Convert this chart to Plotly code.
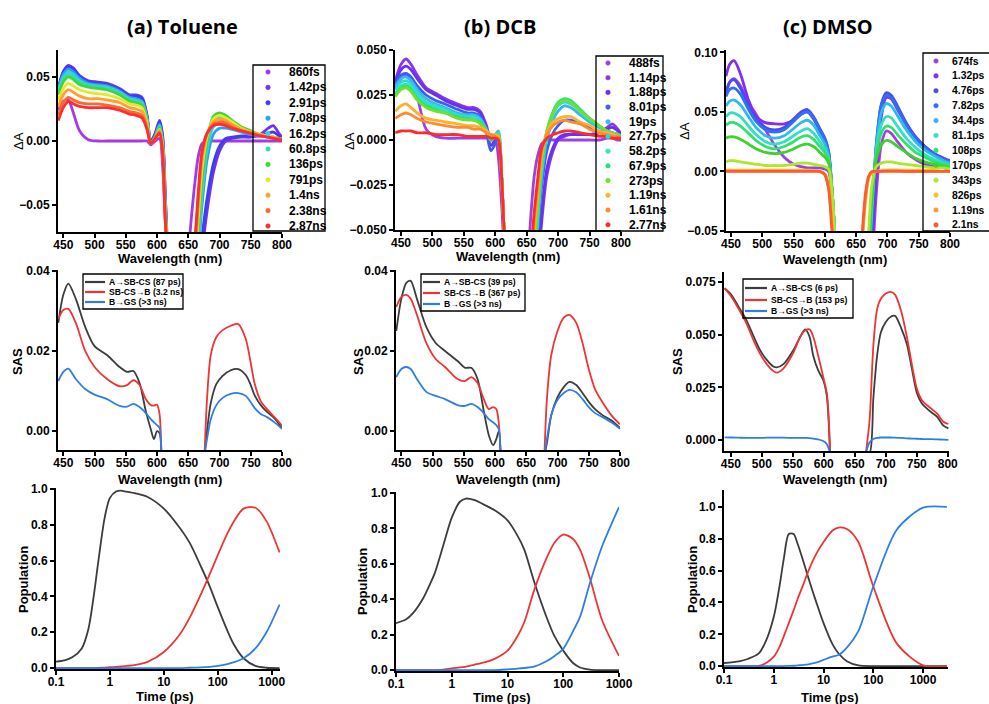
import plotly.graph_objects as go

W, H = 989, 704
FONT = "Liberation Sans, Arial, sans-serif"
TFONT = "Open Sans, Lato, sans-serif"

# ------------------------------------------------------------------ data
# ---- row 1 : transient absorption spectra (Delta A) ----
TOL_LABELS = ["860fs", "1.42ps", "2.91ps", "7.08ps", "16.2ps", "60.8ps", "136ps", "791ps", "1.4ns", "2.38ns", "2.87ns"]
TOL_COLORS = ["#a23be6", "#7430f0", "#3a40f2", "#2a9ef2", "#38cdea", "#2ee3a0", "#3ad93a", "#e6e62e", "#ffa030", "#ff6633", "#ff2d2d"]
TOL_WL_B = [442, 450, 458, 466, 476, 490, 505, 520, 540, 556, 566, 576, 584, 590, 597, 604, 609, 613, 618]
TOL_DA_B = [
    [0.024, 0.031, 0.032, 0.022, 0.008, 0.001, 0.0, 0.0, 0.0, 0.0, 0.0, 0.0, 0.0, -0.003, 0.0, 0.002, -0.02, -0.06, -0.1],
    [0.040, 0.054, 0.059, 0.057, 0.051, 0.047, 0.046, 0.045, 0.041, 0.036, 0.036, 0.034, 0.020, 0.000, 0.006, 0.016, 0.004, -0.04, -0.1],
    [0.041, 0.054, 0.058, 0.056, 0.050, 0.046, 0.045, 0.044, 0.040, 0.035, 0.035, 0.033, 0.019, -0.001, 0.005, 0.015, 0.002, -0.04, -0.1],
    [0.040, 0.052, 0.056, 0.054, 0.049, 0.045, 0.044, 0.043, 0.039, 0.034, 0.033, 0.031, 0.018, -0.002, 0.004, 0.013, 0.0, -0.045, -0.1],
    [0.039, 0.050, 0.054, 0.052, 0.047, 0.044, 0.043, 0.042, 0.038, 0.033, 0.032, 0.030, 0.017, -0.002, 0.003, 0.012, -0.002, -0.05, -0.1],
    [0.037, 0.048, 0.052, 0.050, 0.046, 0.043, 0.042, 0.041, 0.037, 0.032, 0.031, 0.029, 0.016, -0.002, 0.003, 0.011, -0.004, -0.05, -0.1],
    [0.036, 0.046, 0.050, 0.048, 0.044, 0.042, 0.041, 0.040, 0.036, 0.031, 0.030, 0.028, 0.015, -0.002, 0.003, 0.010, -0.005, -0.05, -0.1],
    [0.032, 0.041, 0.045, 0.043, 0.040, 0.038, 0.037, 0.036, 0.033, 0.029, 0.028, 0.026, 0.014, -0.002, 0.002, 0.009, -0.006, -0.055, -0.1],
    [0.027, 0.036, 0.040, 0.038, 0.035, 0.033, 0.033, 0.032, 0.030, 0.026, 0.025, 0.023, 0.012, -0.002, 0.002, 0.008, -0.008, -0.055, -0.1],
    [0.020, 0.030, 0.034, 0.032, 0.030, 0.029, 0.029, 0.028, 0.026, 0.023, 0.022, 0.020, 0.010, -0.002, 0.002, 0.007, -0.01, -0.06, -0.1],
    [0.016, 0.026, 0.031, 0.029, 0.027, 0.026, 0.026, 0.026, 0.024, 0.021, 0.020, 0.018, 0.009, -0.002, 0.002, 0.006, -0.01, -0.06, -0.1],
]
TOL_WL_R = [648, 654, 660, 666, 672, 680, 690, 700, 710, 720, 735, 750, 765, 778, 786, 795, 800]
TOL_DA_R = [
    [-0.1, -0.065, -0.035, -0.012, -0.002, 0.0, 0.0, 0.0, 0.0, 0.0, 0.0, 0.0, 0.0, 0.0, 0.0, 0.0, 0.0],
    [-0.1, -0.1, -0.1, -0.1, -0.085, -0.055, -0.025, -0.008, 0.0, 0.002, 0.003, 0.003, 0.005, 0.010, 0.012, 0.006, 0.003],
    [-0.1, -0.1, -0.1, -0.1, -0.075, -0.045, -0.018, -0.004, 0.002, 0.003, 0.004, 0.004, 0.004, 0.006, 0.007, 0.004, 0.002],
    [-0.1, -0.1, -0.1, -0.085, -0.05, -0.015, 0.005, 0.010, 0.010, 0.009, 0.007, 0.005, 0.004, 0.003, 0.003, 0.002, 0.002],
    [-0.1, -0.1, -0.1, -0.08, -0.042, -0.008, 0.011, 0.014, 0.013, 0.011, 0.008, 0.006, 0.004, 0.003, 0.003, 0.002, 0.002],
    [-0.1, -0.1, -0.1, -0.075, -0.036, -0.003, 0.016, 0.019, 0.017, 0.014, 0.010, 0.007, 0.005, 0.004, 0.003, 0.002, 0.002],
    [-0.1, -0.1, -0.1, -0.07, -0.031, 0.0, 0.019, 0.022, 0.020, 0.016, 0.011, 0.008, 0.005, 0.004, 0.003, 0.002, 0.002],
    [-0.1, -0.1, -0.095, -0.06, -0.022, 0.003, 0.017, 0.020, 0.018, 0.015, 0.010, 0.007, 0.005, 0.004, 0.003, 0.002, 0.002],
    [-0.1, -0.1, -0.09, -0.05, -0.015, 0.005, 0.015, 0.017, 0.016, 0.013, 0.009, 0.007, 0.005, 0.003, 0.003, 0.002, 0.002],
    [-0.1, -0.1, -0.085, -0.045, -0.01, 0.006, 0.013, 0.015, 0.014, 0.011, 0.008, 0.006, 0.004, 0.003, 0.002, 0.002, 0.001],
    [-0.1, -0.1, -0.08, -0.04, -0.008, 0.006, 0.012, 0.013, 0.012, 0.010, 0.008, 0.006, 0.004, 0.003, 0.002, 0.001, 0.001],
]

DCB_LABELS = ["488fs", "1.14ps", "1.88ps", "8.01ps", "19ps", "27.7ps", "58.2ps", "67.9ps", "273ps", "1.19ns", "1.61ns", "2.77ns"]
DCB_COLORS = ["#a040e0", "#8a35ea", "#6a30f0", "#3a60f0", "#38b8f0", "#30d8e0", "#30e8b0", "#30e070", "#70e030", "#ffb030", "#ff8a30", "#ff2a2a"]
DCB_WL_B = [441, 450, 458, 466, 476, 490, 505, 520, 540, 556, 566, 576, 586, 593, 600, 605, 610, 614, 620]
DCB_DA_B = [
    [0.029, 0.034, 0.036, 0.033, 0.024, 0.006, 0.002, 0.001, 0.001, 0.001, 0.001, 0.001, 0.001, 0.0, 0.0, -0.01, -0.035, -0.06, -0.08],
    [0.033, 0.042, 0.045, 0.042, 0.036, 0.029, 0.026, 0.023, 0.020, 0.018, 0.018, 0.016, 0.008, 0.0, 0.001, 0.002, -0.02, -0.05, -0.08],
    [0.032, 0.039, 0.041, 0.039, 0.034, 0.028, 0.025, 0.022, 0.019, 0.017, 0.017, 0.015, 0.006, -0.003, 0.0, 0.002, -0.02, -0.05, -0.08],
    [0.031, 0.036, 0.037, 0.035, 0.030, 0.025, 0.022, 0.020, 0.017, 0.015, 0.015, 0.013, 0.004, -0.006, -0.002, 0.003, -0.02, -0.05, -0.08],
    [0.030, 0.034, 0.035, 0.033, 0.028, 0.023, 0.020, 0.018, 0.015, 0.014, 0.014, 0.012, 0.006, 0.001, 0.003, 0.005, -0.018, -0.05, -0.08],
    [0.028, 0.032, 0.033, 0.031, 0.026, 0.021, 0.019, 0.017, 0.014, 0.013, 0.013, 0.011, 0.005, 0.0, 0.002, 0.004, -0.02, -0.05, -0.08],
    [0.026, 0.030, 0.031, 0.029, 0.024, 0.020, 0.018, 0.016, 0.013, 0.012, 0.012, 0.010, 0.005, 0.0, 0.002, 0.003, -0.02, -0.05, -0.08],
    [0.025, 0.029, 0.030, 0.028, 0.023, 0.019, 0.017, 0.015, 0.013, 0.012, 0.011, 0.010, 0.005, 0.0, 0.002, 0.003, -0.02, -0.05, -0.08],
    [0.024, 0.028, 0.029, 0.027, 0.022, 0.018, 0.016, 0.015, 0.012, 0.011, 0.011, 0.009, 0.005, 0.001, 0.002, 0.003, -0.02, -0.05, -0.08],
    [0.016, 0.019, 0.020, 0.018, 0.015, 0.012, 0.011, 0.010, 0.009, 0.008, 0.008, 0.007, 0.005, 0.003, 0.003, 0.002, -0.02, -0.05, -0.08],
    [0.012, 0.014, 0.015, 0.014, 0.012, 0.010, 0.009, 0.008, 0.007, 0.007, 0.006, 0.006, 0.004, 0.003, 0.002, 0.001, -0.02, -0.05, -0.08],
    [0.004, 0.005, 0.005, 0.005, 0.004, 0.004, 0.003, 0.003, 0.003, 0.002, 0.002, 0.002, 0.002, 0.001, 0.001, 0.0, -0.02, -0.05, -0.08],
]
DCB_WL_R = [650, 656, 662, 668, 674, 682, 692, 700, 710, 720, 735, 750, 765, 778, 786, 795, 800]
DCB_DA_R = [
    [-0.08, -0.045, -0.02, -0.008, -0.002, 0.0, 0.0, 0.0, 0.0, 0.0, 0.0, 0.0, 0.0, 0.001, 0.001, 0.0, 0.0],
    [-0.08, -0.08, -0.08, -0.07, -0.045, -0.02, -0.006, 0.0, 0.002, 0.003, 0.003, 0.003, 0.004, 0.007, 0.009, 0.006, 0.003],
    [-0.08, -0.08, -0.08, -0.065, -0.04, -0.016, -0.004, 0.001, 0.003, 0.003, 0.003, 0.003, 0.004, 0.006, 0.007, 0.005, 0.003],
    [-0.08, -0.08, -0.075, -0.05, -0.025, -0.006, 0.004, 0.008, 0.011, 0.011, 0.009, 0.007, 0.005, 0.004, 0.004, 0.003, 0.002],
    [-0.08, -0.08, -0.07, -0.045, -0.02, 0.0, 0.011, 0.016, 0.019, 0.018, 0.014, 0.010, 0.007, 0.005, 0.004, 0.003, 0.002],
    [-0.08, -0.08, -0.065, -0.04, -0.016, 0.003, 0.014, 0.019, 0.021, 0.020, 0.016, 0.011, 0.008, 0.005, 0.004, 0.003, 0.002],
    [-0.08, -0.08, -0.065, -0.04, -0.015, 0.004, 0.015, 0.020, 0.022, 0.021, 0.017, 0.012, 0.008, 0.005, 0.004, 0.003, 0.002],
    [-0.08, -0.08, -0.063, -0.038, -0.014, 0.005, 0.016, 0.021, 0.023, 0.022, 0.017, 0.012, 0.008, 0.005, 0.004, 0.003, 0.002],
    [-0.08, -0.08, -0.06, -0.035, -0.012, 0.005, 0.015, 0.020, 0.022, 0.021, 0.016, 0.012, 0.008, 0.005, 0.004, 0.003, 0.002],
    [-0.08, -0.075, -0.05, -0.028, -0.008, 0.004, 0.010, 0.012, 0.013, 0.013, 0.010, 0.008, 0.005, 0.004, 0.003, 0.002, 0.001],
    [-0.08, -0.07, -0.045, -0.025, -0.006, 0.003, 0.008, 0.010, 0.011, 0.010, 0.009, 0.006, 0.004, 0.003, 0.002, 0.002, 0.001],
    [-0.08, -0.065, -0.04, -0.02, -0.004, 0.001, 0.003, 0.004, 0.005, 0.005, 0.004, 0.003, 0.002, 0.002, 0.001, 0.001, 0.001],
]

DMSO_LABELS = ["674fs", "1.32ps", "4.76ps", "7.82ps", "34.4ps", "81.1ps", "108ps", "170ps", "343ps", "826ps", "1.19ns", "2.1ns"]
DMSO_COLORS = ["#a040e0", "#8030f0", "#4a4af5", "#3070f0", "#30b8f0", "#30e0c0", "#30e070", "#40d030", "#a8e830", "#ffc020", "#ff9a30", "#ff5a30"]
DMSO_WL_B = [442, 448, 455, 465, 478, 490, 505, 520, 535, 550, 562, 572, 582, 592, 600, 606, 612, 618, 624]
DMSO_DA_B = [
    [0.065, 0.075, 0.078, 0.072, 0.058, 0.048, 0.035, 0.022, 0.012, 0.006, 0.004, 0.003, 0.003, 0.003, 0.002, 0.0, -0.03, -0.07, -0.1],
    [0.080, 0.090, 0.093, 0.082, 0.060, 0.046, 0.041, 0.040, 0.040, 0.043, 0.048, 0.050, 0.044, 0.034, 0.026, 0.015, -0.02, -0.07, -0.1],
    [0.066, 0.075, 0.077, 0.070, 0.055, 0.044, 0.037, 0.035, 0.037, 0.044, 0.050, 0.052, 0.046, 0.036, 0.028, 0.017, -0.02, -0.07, -0.1],
    [0.063, 0.069, 0.070, 0.065, 0.052, 0.042, 0.035, 0.033, 0.035, 0.042, 0.048, 0.050, 0.045, 0.035, 0.027, 0.016, -0.02, -0.07, -0.1],
    [0.055, 0.059, 0.060, 0.056, 0.046, 0.037, 0.030, 0.028, 0.030, 0.036, 0.041, 0.043, 0.039, 0.030, 0.023, 0.013, -0.02, -0.07, -0.1],
    [0.046, 0.049, 0.049, 0.046, 0.038, 0.031, 0.025, 0.023, 0.025, 0.030, 0.034, 0.036, 0.032, 0.025, 0.019, 0.011, -0.02, -0.07, -0.1],
    [0.039, 0.041, 0.041, 0.038, 0.032, 0.026, 0.021, 0.019, 0.021, 0.025, 0.029, 0.030, 0.027, 0.021, 0.016, 0.009, -0.02, -0.07, -0.1],
    [0.028, 0.029, 0.029, 0.027, 0.023, 0.019, 0.016, 0.015, 0.016, 0.019, 0.022, 0.023, 0.021, 0.016, 0.012, 0.007, -0.02, -0.07, -0.1],
    [0.008, 0.009, 0.009, 0.008, 0.007, 0.006, 0.005, 0.005, 0.005, 0.006, 0.007, 0.007, 0.006, 0.005, 0.004, 0.002, -0.02, -0.07, -0.1],
    [0.001, 0.001, 0.001, 0.001, 0.001, 0.001, 0.001, 0.001, 0.001, 0.001, 0.001, 0.001, 0.001, 0.0, -0.002, -0.012, -0.045, -0.08, -0.1],
    [0.0005, 0.0005, 0.0005, 0.0005, 0.0005, 0.0005, 0.0005, 0.0005, 0.0005, 0.0005, 0.0005, 0.0005, 0.0005, 0.0, -0.002, -0.013, -0.05, -0.085, -0.1],
    [0.0, 0.0, 0.0, 0.0, 0.0, 0.0, 0.0, 0.0, 0.0, 0.0, 0.0, 0.0, 0.0, 0.0, -0.003, -0.015, -0.055, -0.09, -0.1],
]
DMSO_WL_R = [655, 660, 665, 670, 675, 682, 690, 698, 706, 716, 730, 745, 760, 775, 790, 800]
DMSO_DA_R = [
    [-0.1, -0.1, -0.1, -0.1, -0.08, -0.02, 0.022, 0.034, 0.032, 0.025, 0.016, 0.010, 0.006, 0.004, 0.003, 0.002],
    [-0.1, -0.1, -0.1, -0.1, -0.07, -0.005, 0.045, 0.062, 0.061, 0.052, 0.040, 0.029, 0.021, 0.015, 0.011, 0.009],
    [-0.1, -0.1, -0.1, -0.09, -0.045, 0.02, 0.056, 0.066, 0.064, 0.055, 0.041, 0.029, 0.021, 0.015, 0.011, 0.008],
    [-0.1, -0.1, -0.1, -0.085, -0.04, 0.022, 0.055, 0.064, 0.062, 0.053, 0.039, 0.028, 0.020, 0.014, 0.010, 0.008],
    [-0.1, -0.1, -0.1, -0.08, -0.035, 0.02, 0.049, 0.057, 0.055, 0.047, 0.035, 0.025, 0.018, 0.013, 0.009, 0.007],
    [-0.1, -0.1, -0.095, -0.075, -0.03, 0.017, 0.039, 0.046, 0.045, 0.038, 0.028, 0.020, 0.014, 0.010, 0.007, 0.006],
    [-0.1, -0.1, -0.095, -0.07, -0.027, 0.014, 0.032, 0.038, 0.037, 0.031, 0.023, 0.016, 0.012, 0.008, 0.006, 0.005],
    [-0.1, -0.1, -0.09, -0.065, -0.022, 0.01, 0.022, 0.026, 0.025, 0.021, 0.016, 0.011, 0.008, 0.006, 0.004, 0.003],
    [-0.1, -0.1, -0.085, -0.05, -0.012, 0.004, 0.007, 0.008, 0.008, 0.007, 0.006, 0.005, 0.004, 0.003, 0.003, 0.002],
    [-0.1, -0.06, -0.025, -0.006, -0.001, 0.0, 0.001, 0.001, 0.001, 0.001, 0.001, 0.001, 0.001, 0.001, 0.0, 0.0],
    [-0.1, -0.055, -0.022, -0.005, -0.001, 0.0, 0.0, 0.001, 0.001, 0.001, 0.0, 0.0, 0.0, 0.0, 0.0, 0.0],
    [-0.095, -0.05, -0.018, -0.004, 0.0, 0.0, 0.0, 0.0, 0.0, 0.0, 0.0, 0.0, 0.0, 0.0, 0.0, 0.0],
]

# ---- row 2 : species associated spectra ----
SAS_COLORS = ["#3c3c3c", "#ee3535", "#2f7ee6"]
TOL_SAS_LABELS = ["A\u2192SB-CS (87 ps)", "SB-CS\u2192B (3.2 ns)", "B\u2192GS (>3 ns)"]
DCB_SAS_LABELS = ["A\u2192SB-CS (39 ps)", "SB-CS\u2192B (367 ps)", "B\u2192GS (>3 ns)"]
DMSO_SAS_LABELS = ["A\u2192SB-CS (6 ps)", "SB-CS\u2192B (153 ps)", "B\u2192GS (>3 ns)"]

TOL_SAS_WL_B = [442, 450, 458, 470, 485, 500, 520, 540, 552, 562, 572, 582, 590, 595, 600, 604, 607]
TOL_SAS_B = [
    [0.027, 0.034, 0.0368, 0.033, 0.026, 0.0212, 0.019, 0.016, 0.0148, 0.015, 0.012, 0.005, 0.0005, -0.002, 0.0, -0.0005, -0.006],
    [0.028, 0.0302, 0.0305, 0.027, 0.020, 0.0160, 0.013, 0.0112, 0.0115, 0.0127, 0.0115, 0.008, 0.0065, 0.0064, 0.0066, 0.0043, -0.006],
    [0.0125, 0.0148, 0.0156, 0.013, 0.0105, 0.0091, 0.008, 0.0063, 0.0061, 0.0068, 0.006, 0.0045, 0.003, 0.0022, 0.0015, 0.0008, -0.006],
]
TOL_SAS_WL_R = [676, 680, 686, 695, 705, 718, 730, 742, 750, 756, 766, 776, 788, 800]
TOL_SAS_R = [
    [-0.006, 0.0, 0.007, 0.0118, 0.0138, 0.0152, 0.0155, 0.014, 0.0115, 0.009, 0.0065, 0.0048, 0.0032, 0.0007],
    [-0.006, 0.008, 0.019, 0.0235, 0.0252, 0.0263, 0.0267, 0.023, 0.017, 0.012, 0.0075, 0.0055, 0.0035, 0.0014],
    [-0.006, -0.002, 0.003, 0.0065, 0.0083, 0.0093, 0.0095, 0.0088, 0.0072, 0.0058, 0.0043, 0.0035, 0.0022, 0.0006],
]

DCB_SAS_WL_B = [442, 450, 458, 465, 475, 490, 505, 520, 540, 552, 562, 572, 582, 590, 597, 602, 606, 609]
DCB_SAS_B = [
    [0.025, 0.033, 0.037, 0.0375, 0.033, 0.026, 0.022, 0.020, 0.0175, 0.0158, 0.0158, 0.013, 0.005, -0.001, -0.0035, -0.002, 0.0, -0.006],
    [0.031, 0.0335, 0.034, 0.033, 0.029, 0.022, 0.018, 0.016, 0.013, 0.0125, 0.0135, 0.012, 0.008, 0.0055, 0.006, 0.0055, 0.002, -0.006],
    [0.0135, 0.0155, 0.016, 0.0155, 0.013, 0.0098, 0.0088, 0.008, 0.0065, 0.0063, 0.0068, 0.006, 0.0045, 0.003, 0.0022, 0.0015, 0.0005, -0.006],
]
DCB_SAS_WL_R = [679, 683, 690, 700, 710, 719, 730, 740, 750, 760, 772, 786, 800]
DCB_SAS_R = [
    [-0.006, -0.003, 0.004, 0.0085, 0.011, 0.0123, 0.0115, 0.0095, 0.0073, 0.0055, 0.004, 0.0027, 0.0008],
    [-0.006, 0.008, 0.019, 0.025, 0.0283, 0.029, 0.027, 0.022, 0.0155, 0.0105, 0.0072, 0.004, 0.0017],
    [-0.006, -0.002, 0.004, 0.0078, 0.0095, 0.0103, 0.0097, 0.008, 0.006, 0.0045, 0.0035, 0.0022, 0.0006],
]

DMSO_SAS_WL_B = [440, 451, 463, 475, 487, 497, 508, 518, 524, 535, 551, 562, 570, 577, 583, 591, 599, 605, 610]
DMSO_SAS_B = [
    [0.072, 0.0688, 0.063, 0.057, 0.049, 0.0427, 0.038, 0.035, 0.0345, 0.036, 0.0427, 0.049, 0.0525, 0.049, 0.040, 0.033, 0.0285, 0.0206, -0.006],
    [0.072, 0.068, 0.062, 0.0555, 0.047, 0.041, 0.036, 0.0328, 0.032, 0.034, 0.0415, 0.049, 0.052, 0.0525, 0.049, 0.040, 0.030, 0.022, -0.004],
    [0.0013, 0.0012, 0.0011, 0.001, 0.001, 0.001, 0.0011, 0.0011, 0.0011, 0.0011, 0.001, 0.001, 0.001, 0.0009, 0.0007, 0.0003, -0.0005, -0.002, -0.006],
]
DMSO_SAS_WL_R = [668, 674, 680, 686, 692, 700, 708, 715, 725, 734, 742, 750, 758, 766, 775, 783, 793, 801]
DMSO_SAS_R = [
    [-0.006, -0.006, 0.02, 0.04, 0.051, 0.056, 0.0585, 0.0589, 0.053, 0.0455, 0.034, 0.0225, 0.0175, 0.015, 0.0128, 0.011, 0.0068, 0.0055],
    [-0.006, 0.01, 0.045, 0.062, 0.067, 0.0695, 0.0703, 0.069, 0.061, 0.049, 0.036, 0.0245, 0.019, 0.0166, 0.0145, 0.0125, 0.0087, 0.0076],
    [-0.006, -0.001, 0.0005, 0.001, 0.0012, 0.0012, 0.0012, 0.0011, 0.001, 0.0008, 0.0007, 0.0006, 0.0005, 0.0004, 0.0004, 0.0003, 0.0002, 0.0001],
]

# ---- row 3 : population kinetics ----
TOL_T = [0.1, 0.15, 0.2, 0.3, 0.4, 0.5, 0.6, 0.8, 1.0, 1.3, 1.6, 2, 3, 5, 10, 20, 30, 50, 70, 100, 150, 200, 300, 500, 800, 1400]
TOL_POP = [
    [0.036, 0.045, 0.06, 0.11, 0.22, 0.40, 0.58, 0.84, 0.95, 0.985, 0.99, 0.985, 0.975, 0.955, 0.89, 0.78, 0.70, 0.56, 0.46, 0.34, 0.21, 0.13, 0.055, 0.012, 0.002, 0.0],
    [0.0, 0.0, 0.0, 0.0, 0.0, 0.0, 0.001, 0.003, 0.005, 0.007, 0.009, 0.012, 0.018, 0.035, 0.09, 0.19, 0.28, 0.42, 0.52, 0.63, 0.75, 0.82, 0.89, 0.895, 0.82, 0.645],
    [0.0, 0.0, 0.0, 0.0, 0.0, 0.0, 0.0, 0.0, 0.0, 0.0, 0.0, 0.0, 0.0, 0.0, 0.0, 0.0, 0.002, 0.004, 0.007, 0.012, 0.022, 0.033, 0.055, 0.11, 0.2, 0.355],
]
DCB_T = [0.1, 0.15, 0.2, 0.3, 0.4, 0.5, 0.7, 1, 1.4, 1.8, 2.5, 4, 6, 10, 15, 20, 30, 50, 70, 100, 150, 200, 300, 500, 1000]
DCB_POP = [
    [0.265, 0.285, 0.32, 0.4, 0.48, 0.55, 0.7, 0.86, 0.95, 0.968, 0.96, 0.93, 0.9, 0.845, 0.76, 0.68, 0.5, 0.3, 0.19, 0.11, 0.04, 0.015, 0.003, 0.0, 0.0],
    [0.0, 0.0, 0.0, 0.0, 0.0, 0.0, 0.002, 0.01, 0.015, 0.02, 0.03, 0.045, 0.065, 0.11, 0.19, 0.27, 0.45, 0.63, 0.72, 0.765, 0.74, 0.68, 0.52, 0.28, 0.08],
    [0.0, 0.0, 0.0, 0.0, 0.0, 0.0, 0.0, 0.0, 0.0, 0.0, 0.0, 0.0, 0.0, 0.004, 0.008, 0.012, 0.02, 0.05, 0.08, 0.12, 0.22, 0.3, 0.49, 0.7, 0.92],
]
DMSO_T = [0.1, 0.2, 0.3, 0.5, 0.7, 1, 1.3, 1.6, 2, 2.5, 3, 4, 5, 7, 10, 15, 20, 30, 50, 100, 300, 1000, 3000]
DMSO_POP = [
    [0.02, 0.03, 0.045, 0.08, 0.16, 0.31, 0.5, 0.68, 0.83, 0.83, 0.77, 0.65, 0.55, 0.41, 0.27, 0.14, 0.08, 0.03, 0.005, 0.0, 0.0, 0.0, 0.0],
    [0.0, 0.0, 0.0, 0.002, 0.02, 0.06, 0.12, 0.19, 0.27, 0.35, 0.42, 0.52, 0.6, 0.7, 0.78, 0.85, 0.87, 0.86, 0.78, 0.5, 0.14, 0.005, 0.0],
    [0.0, 0.0, 0.0, 0.0, 0.0, 0.0, 0.0, 0.001, 0.002, 0.003, 0.005, 0.008, 0.012, 0.022, 0.04, 0.06, 0.07, 0.12, 0.22, 0.5, 0.86, 0.995, 1.0],
]

TITLES = ["(a) Toluene", "(b) DCB", "(c) DMSO"]
WL_TICKS = [450, 500, 550, 600, 650, 700, 750, 800]
T_TICKS = [0.1, 1, 10, 100, 1000]
T_TICKTEXT = ["0.1", "1", "10", "100", "1000"]

# ------------------------------------------------------------------ layout helpers
def fx(p):
    return p / W

def fy(p):
    return 1 - p / H

# pixel boxes (x0, x1, ytop, ybottom) for the 9 panels
BOXES = [
    (58, 282, 50, 232), (395, 621, 50, 230), (726, 950, 50, 231),
    (58, 282, 270, 450), (396, 620, 270, 450), (724, 949, 272, 451),
    (56, 280, 488, 669), (396, 619, 492, 671), (724, 948, 490, 667),
]
XRANGES = [[441.5, 800], [440.5, 800], [442, 800],
           [441.5, 800], [441.5, 800], [439, 802],
           [-1, 3.154], [-1, 3], [-1, 3.5]]
YRANGES = [[-0.071, 0.071], [-0.05, 0.05], [-0.05, 0.102],
           [-0.0047, 0.0402], [-0.0047, 0.0402], [-0.0052, 0.0797],
           [-0.005, 1.005], [-0.005, 1.005], [-0.005, 1.106]]
YTICKS = [[-0.05, 0.0, 0.05], [-0.05, -0.025, 0.0, 0.025, 0.05], [-0.05, 0.0, 0.05, 0.10],
          [0.0, 0.02, 0.04], [0.0, 0.02, 0.04], [0.0, 0.025, 0.05, 0.075],
          [0, 0.2, 0.4, 0.6, 0.8, 1.0], [0, 0.2, 0.4, 0.6, 0.8, 1.0], [0, 0.2, 0.4, 0.6, 0.8, 1.0]]
YFMT = [".2f", ".3f", ".2f", ".2f", ".2f", ".3f", ".1f", ".1f", ".1f"]

fig = go.Figure()

def ax_name(i, kind):
    return kind + ("" if i == 0 else str(i + 1))

def add_line(i, x, y, color, width):
    fig.add_trace(go.Scatter(
        x=x, y=y, mode="lines", showlegend=False, hoverinfo="skip",
        line=dict(color=color, width=width, shape="spline", smoothing=0.8),
        xaxis=ax_name(i, "x"), yaxis=ax_name(i, "y"), connectgaps=False))

# row 1
for i, (wb, db, wr, dr, cols) in enumerate([
        (TOL_WL_B, TOL_DA_B, TOL_WL_R, TOL_DA_R, TOL_COLORS),
        (DCB_WL_B, DCB_DA_B, DCB_WL_R, DCB_DA_R, DCB_COLORS),
        (DMSO_WL_B, DMSO_DA_B, DMSO_WL_R, DMSO_DA_R, DMSO_COLORS)]):
    for k in range(len(db)):
        add_line(i, wb + [None] + wr, db[k] + [None] + dr[k], cols[k], 2.8)

# row 2
for j, (wb, db, wr, dr) in enumerate([
        (TOL_SAS_WL_B, TOL_SAS_B, TOL_SAS_WL_R, TOL_SAS_R),
        (DCB_SAS_WL_B, DCB_SAS_B, DCB_SAS_WL_R, DCB_SAS_R),
        (DMSO_SAS_WL_B, DMSO_SAS_B, DMSO_SAS_WL_R, DMSO_SAS_R)]):
    for k in range(3):
        add_line(3 + j, wb + [None] + wr, db[k] + [None] + dr[k], SAS_COLORS[k], 1.8)

# row 3
for j, (tt, pp) in enumerate([(TOL_T, TOL_POP), (DCB_T, DCB_POP), (DMSO_T, DMSO_POP)]):
    for k in range(3):
        add_line(6 + j, tt, pp[k], SAS_COLORS[k], 1.8)

tickfont = dict(family=FONT, size=12, color="black", weight="bold")
axis_common = dict(showline=True, linecolor="black", linewidth=2, ticks="outside",
                   ticklen=4, tickwidth=2, tickcolor="black", showgrid=False,
                   zeroline=False, tickfont=tickfont, fixedrange=True,
                   automargin=False)

layout = dict(width=W, height=H,
              margin=dict(l=0, r=0, t=0, b=0, pad=0, autoexpand=False),
              paper_bgcolor="white", plot_bgcolor="white", showlegend=False)
for i, (x0, x1, yt, yb) in enumerate(BOXES):
    xa = dict(axis_common, domain=[fx(x0), fx(x1)], range=XRANGES[i],
              anchor=ax_name(i, "y"), ticklabelstandoff=-3)
    if i >= 6:
        xa.update(type="log", tickvals=T_TICKS, ticktext=T_TICKTEXT)
    else:
        xa.update(tickvals=WL_TICKS)
    ya = dict(axis_common, domain=[fy(yb), fy(yt)], range=YRANGES[i],
              anchor=ax_name(i, "x"), tickvals=YTICKS[i], tickformat=YFMT[i])
    layout["xaxis" + ("" if i == 0 else str(i + 1))] = xa
    layout["yaxis" + ("" if i == 0 else str(i + 1))] = ya
fig.update_layout(**layout)

shapes = []
annots = []

def text(x, y, s, size, bold=True, angle=0, xanchor="center", family=FONT):
    annots.append(dict(x=fx(x), y=fy(y), xref="paper", yref="paper", text=s,
                       showarrow=False, xanchor=xanchor, yanchor="middle",
                       textangle=angle,
                       font=dict(family=family, size=size, color="black",
                                 weight="bold" if bold else "normal")))

# panel titles
for s, cx in zip(TITLES, [182, 500, 828]):
    text(cx, 26, s, 20, family=TFONT)

# axis titles
for cx, cy in [(170, 258), (508, 257), (835, 259)]:
    text(cx, cy, "Wavelength (nm)", 13)
for cx, cy in [(170, 479), (508, 479), (835, 479)]:
    text(cx, cy, "Wavelength (nm)", 13)
for cx, cy in [(165, 696), (502, 697), (830, 697)]:
    text(cx, cy, "Time (ps)", 13)
for cx, cy in [(18, 141), (349, 141), (685, 131)]:
    text(cx, cy, "\u0394A", 13, bold=False, angle=-90)
for cx, cy in [(17, 362), (358, 362), (677, 362)]:
    text(cx, cy, "SAS", 13, angle=-90)
for cx, cy in [(23, 580), (362, 582), (692, 580)]:
    text(cx, cy, "Population", 13, angle=-90)

# row-1 legends (box, dot x, text x, first row y, step, font size)
for labels, colors, (bx0, by0, bx1, by1), dotx, tx, y0, dy, fs in [
        (TOL_LABELS, TOL_COLORS, (253, 65, 325, 231), 268, 287, 72, 15.4, 12),
        (DCB_LABELS, DCB_COLORS, (596, 56, 663, 231), 608, 627, 63, 14.7, 12),
        (DMSO_LABELS, DMSO_COLORS, (923, 53, 1000, 231), 936, 950, 61, 14.9, 10.4)]:
    shapes.append(dict(type="rect", xref="paper", yref="paper",
                       x0=fx(bx0), x1=fx(bx1), y0=fy(by1), y1=fy(by0),
                       line=dict(color="black", width=1.3)))
    for k, (lab, col) in enumerate(zip(labels, colors)):
        yy = y0 + k * dy
        shapes.append(dict(type="circle", xref="paper", yref="paper",
                           x0=fx(dotx - 2.3), x1=fx(dotx + 2.3),
                           y0=fy(yy + 2.3), y1=fy(yy - 2.3),
                           fillcolor=col, line=dict(color=col, width=0.5)))
        text(tx, yy, lab, fs, xanchor="left")

# row-2 legends
for labels, (bx0, by0, bx1, by1), lx0, lx1, tx, rows in [
        (TOL_SAS_LABELS, (83, 274, 183, 309), 85, 105, 107, [282, 292, 302]),
        (DCB_SAS_LABELS, (421, 274, 525, 311), 423, 440, 442, [282, 293, 304]),
        (DMSO_SAS_LABELS, (743, 279, 853, 318), 745, 767, 769, [288, 300, 311])]:
    shapes.append(dict(type="rect", xref="paper", yref="paper",
                       x0=fx(bx0), x1=fx(bx1), y0=fy(by1), y1=fy(by0),
                       line=dict(color="black", width=1.3)))
    for k, (lab, yy) in enumerate(zip(labels, rows)):
        shapes.append(dict(type="line", xref="paper", yref="paper",
                           x0=fx(lx0), x1=fx(lx1), y0=fy(yy), y1=fy(yy),
                           line=dict(color=SAS_COLORS[k], width=2.2)))
        text(tx, yy, lab, 8.6, xanchor="left")

fig.update_layout(shapes=shapes, annotations=annots)
fig.write_html("out.html",
               config={"displayModeBar": False},
               post_script="document.body.style.margin='0px';"
                           "document.body.style.overflow='hidden';")
